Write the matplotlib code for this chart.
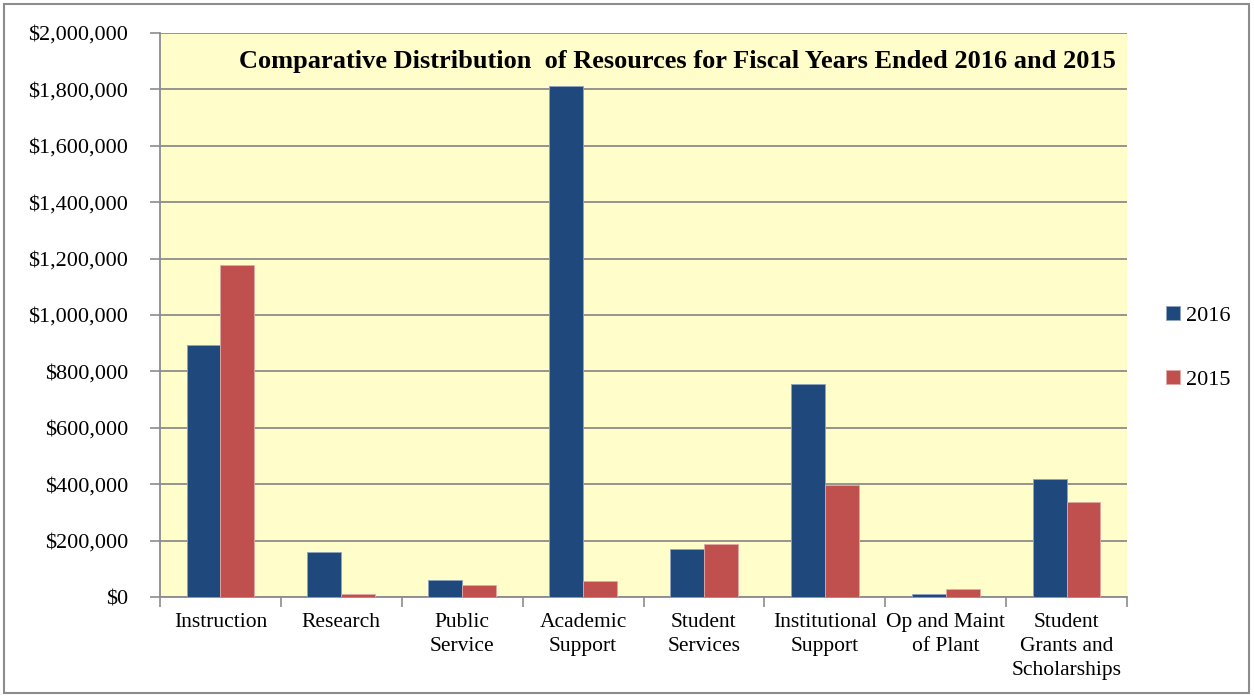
import numpy as np
import matplotlib
matplotlib.use("Agg")
import matplotlib.pyplot as plt
from matplotlib.patches import Rectangle
from matplotlib.ticker import FuncFormatter

plt.rcParams['font.family'] = ['Liberation Serif', 'DejaVu Serif']

# data
categories = ["Instruction", "Research", "Public\nService", "Academic\nSupport",
              "Student\nServices", "Institutional\nSupport", "Op and Maint\nof Plant",
              "Student\nGrants and\nScholarships"]
vals_2016 = [893000, 159000, 59000, 1811000, 170000, 756000, 10000, 420000]
vals_2015 = [1176000, 10000, 43000, 55000, 187000, 398000, 28000, 337000]
series_names = ["2016", "2015"]

c2016 = "#1F497D"
c2015 = "#C0504D"
grid_c = "#8C8C8C"

fig = plt.figure(figsize=(12.54, 6.96), dpi=100)
ax = fig.add_axes([160/1254, 1 - 597/696, (1127-160)/1254, (597-33)/696])
ax.set_facecolor("#FFFDC9")

x = np.arange(len(categories))
w = 0.28
ax.bar(x - w/2, vals_2016, w, color=c2016, edgecolor="#8FA4C0", linewidth=0.6,
       label=series_names[0], zorder=3)
ax.bar(x + w/2, vals_2015, w, color=c2015, edgecolor="#E2A9A7", linewidth=0.6,
       label=series_names[1], zorder=3)

ax.set_xlim(-0.5, len(categories) - 0.5)
ax.set_ylim(0, 2000000)
ax.set_yticks(np.arange(0, 2000001, 200000))
ax.yaxis.set_major_formatter(FuncFormatter(lambda v, p: "${:,.0f}".format(v)))
ax.grid(axis="y", color=grid_c, linewidth=1.3, zorder=0)

# ticks between categories, labels at centres
ax.set_xticks(np.arange(-0.5, len(categories), 1.0))
ax.set_xticklabels([])
ax.set_xticks(x, minor=True)
ax.set_xticklabels(categories, minor=True, fontsize=15.5, linespacing=1.37)
ax.tick_params(axis="x", which="major", length=7, color=grid_c, width=1.2)
ax.tick_params(axis="x", which="minor", length=0, pad=11.5)
ax.tick_params(axis="y", length=7, color=grid_c, width=1.2, pad=16, labelsize=16)

for s in ["top", "right"]:
    ax.spines[s].set_visible(False)
for s in ["left", "bottom"]:
    ax.spines[s].set_color(grid_c)
    ax.spines[s].set_linewidth(1.3)

ax.text(0.988, 0.95, "Comparative Distribution  of Resources for Fiscal Years Ended 2016 and 2015",
        transform=ax.transAxes, ha="right", va="center", fontsize=19, fontweight="bold")

fig.legend(loc="center left", bbox_to_anchor=(0.93, 0.5), frameon=False, fontsize=16,
           handlelength=0.6, handleheight=0.6, handletextpad=0.3, labelspacing=2.0,
           borderpad=0, borderaxespad=0)

fig.patches.append(Rectangle((4/1254, 3/696), 1 - 9/1254, 1 - 7/696, transform=fig.transFigure,
                             fill=False, edgecolor="#8C8C8C", linewidth=1.5))

fig.savefig("out.png", dpi=100, facecolor="white")
